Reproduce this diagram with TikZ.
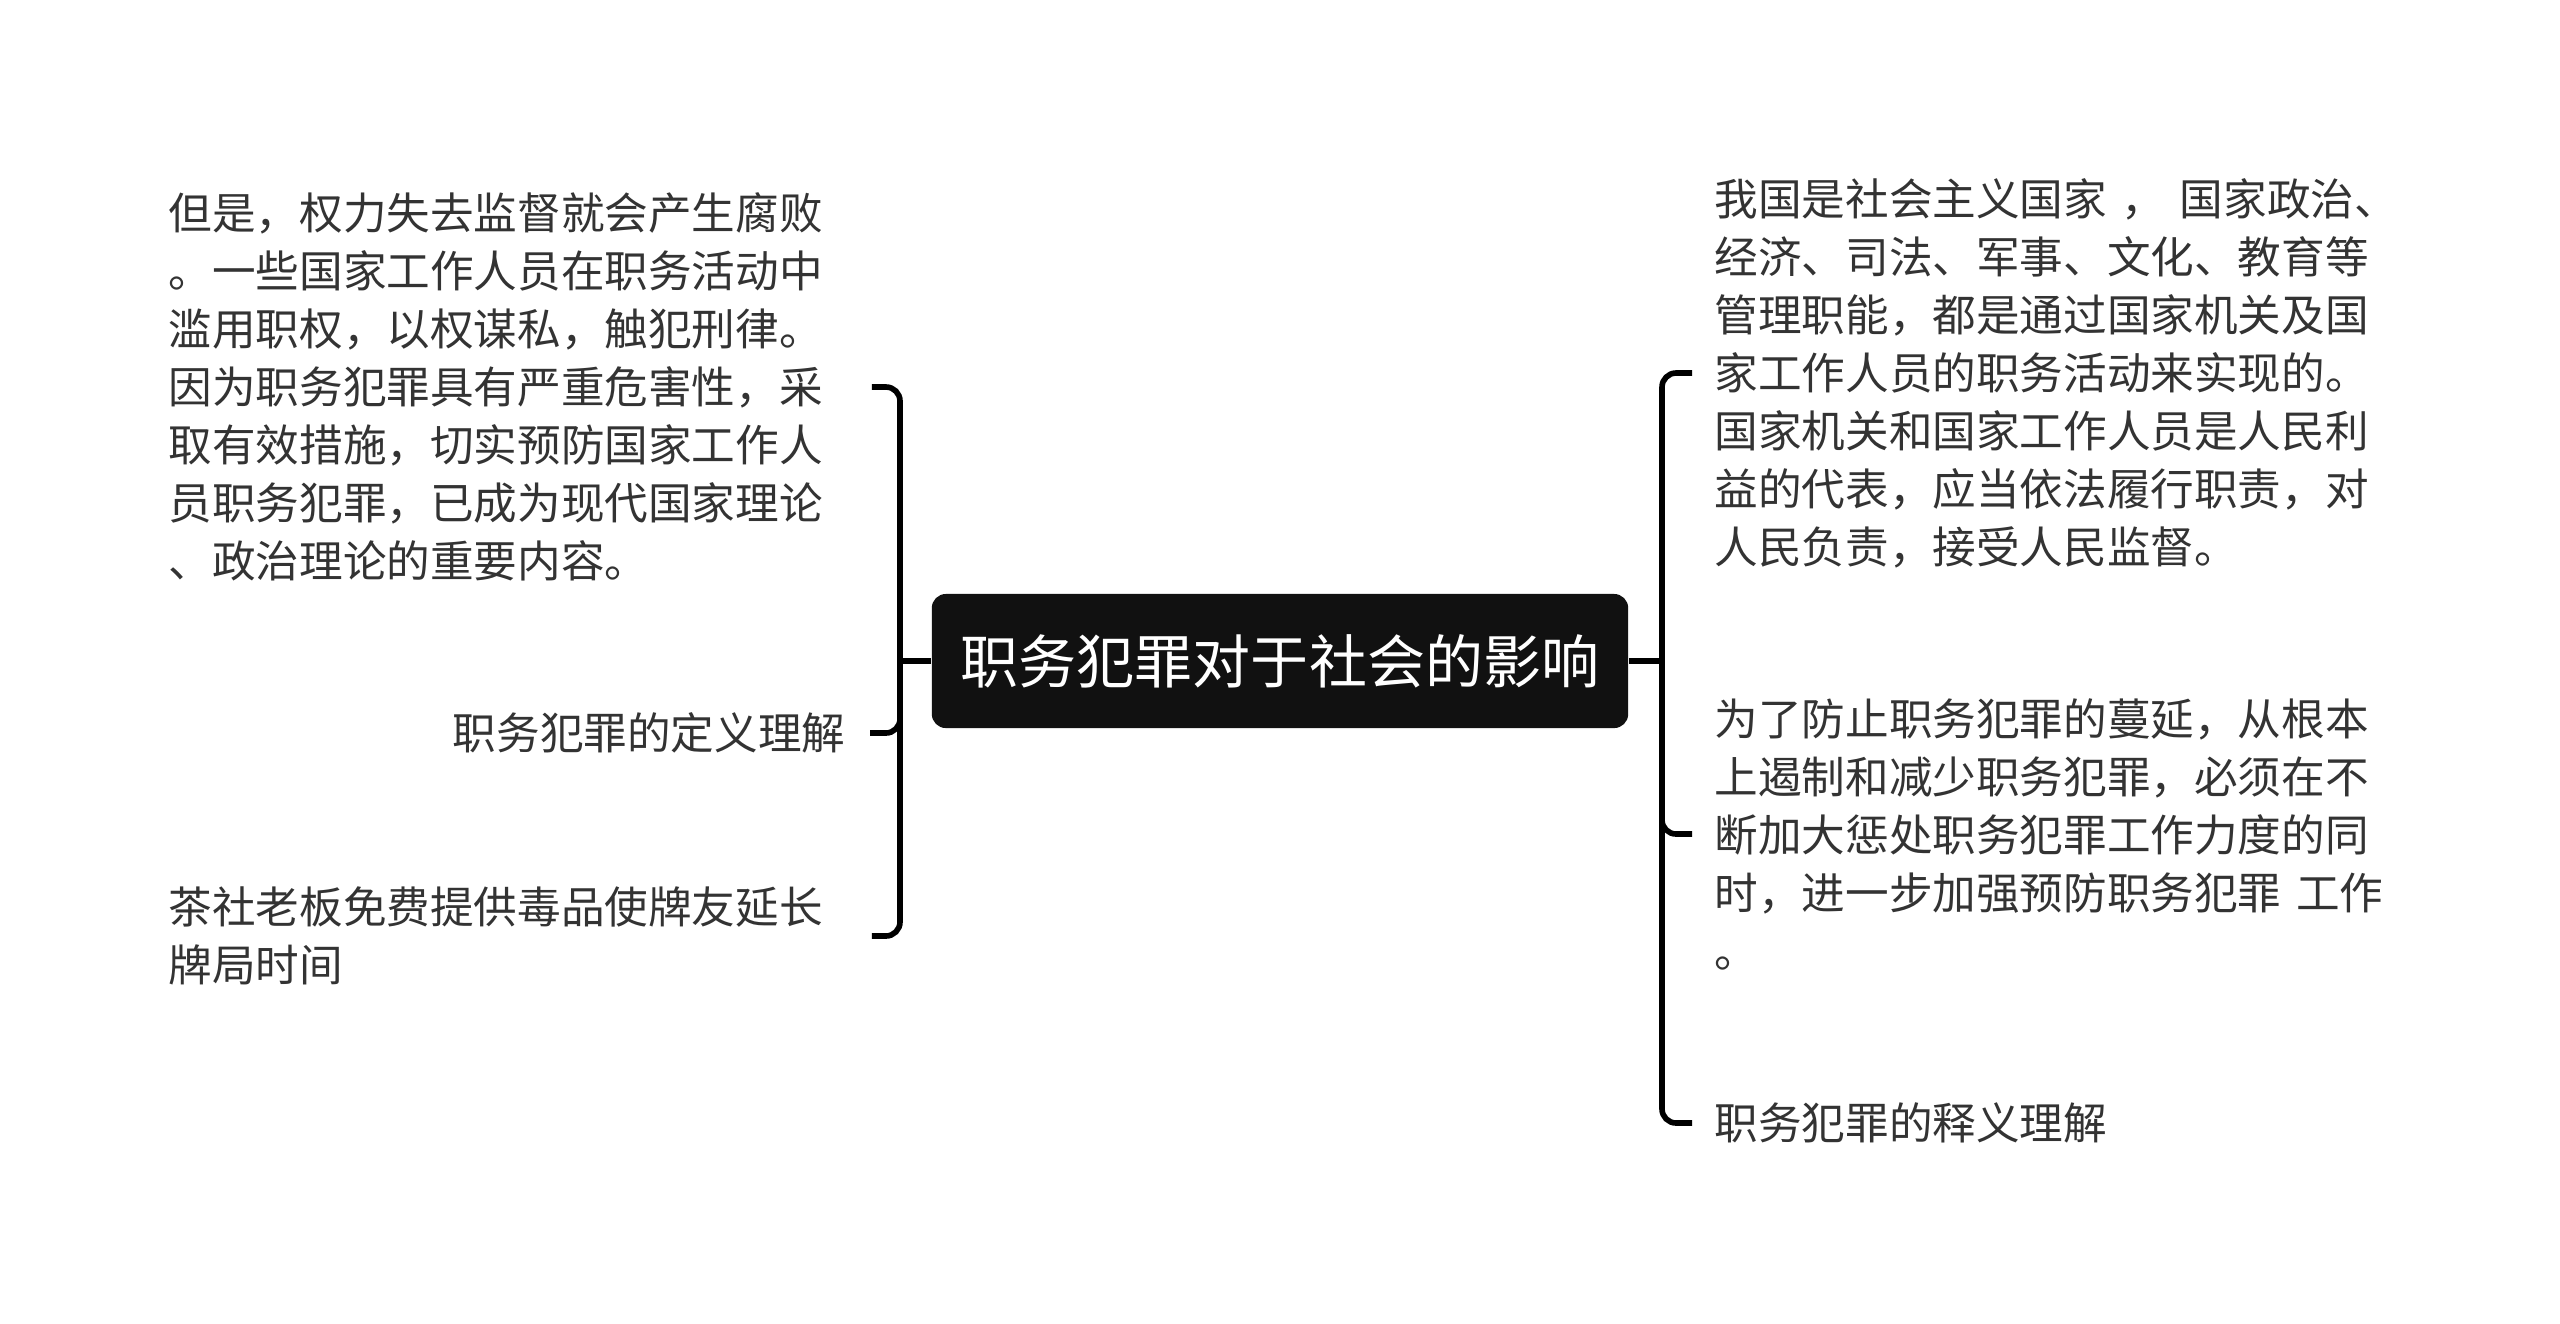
\documentclass[tikz,border=0pt]{standalone}
\usepackage{fontspec}
\setmainfont{Noto Sans CJK SC}
\usepackage{tikz}
\definecolor{ink}{HTML}{333333}
\definecolor{rootbg}{HTML}{111111}

\begin{document}
\begin{tikzpicture}[
    x=0.01cm, y=-0.01cm,
    font=\fontsize{12.4pt}{16.5pt}\selectfont,
    leaf/.style={text=ink, inner sep=0pt, align=left, text width=6.78cm},
    rleaf/.style={leaf, text width=7.8cm, anchor=west},
    root/.style={fill=rootbg, text=white, rounded corners=4pt, inner sep=0pt, minimum width=6.96cm, minimum height=1.34cm, font=\fontsize{16.5pt}{20pt}\selectfont},
    link/.style={black, line width=1.6pt, rounded corners=4pt}
  ]
    \useasboundingbox (0,0) rectangle (2560,1323);
    \node[root] (main) at (1280,661) {职务犯罪对于社会的影响};
    % left side
    \node[leaf, anchor=west] (l1) at (168,387) {但是，权力失去监督就会产生腐败\\。一些国家工作人员在职务活动中\\滥用职权，以权谋私，触犯刑律。\\因为职务犯罪具有严重危害性，采\\取有效措施，切实预防国家工作人\\员职务犯罪，已成为现代国家理论\\、政治理论的重要内容。};
    \node[leaf, anchor=east, align=right] (l2) at (846,733) {职务犯罪的定义理解};
    \node[leaf, anchor=west] (l3) at (168,936) {茶社老板免费提供毒品使牌友延长\\牌局时间};
    % right side
    \node[rleaf] (r1) at (1714,373) {我国是社会主义国家 ， 国家政治、\\经济、司法、军事、文化、教育等\\管理职能，都是通过国家机关及国\\家工作人员的职务活动来实现的。\\国家机关和国家工作人员是人民利\\益的代表，应当依法履行职责，对\\人民负责，接受人民监督。};
    \node[rleaf] (r2) at (1714,834) {为了防止职务犯罪的蔓延，从根本\\上遏制和减少职务犯罪，必须在不\\断加大惩处职务犯罪工作力度的同\\时，进一步加强预防职务犯罪 工作\\。};
    \node[rleaf] (r3) at (1714,1123) {职务犯罪的释义理解};
    \coordinate (lb) at (900,661);
    \coordinate (rb) at (1662,661);
    \draw[link] (main.west) -- (lb);
    \draw[link] (main.east) -- (rb);
    \draw[link] ([xshift=2.4mm]l1.east) -| (lb) |- ([xshift=2.4mm]l3.east);
    \draw[link] ([xshift=2.4mm]l2.east) -| ([yshift=4mm]lb |- l2.east);
    \draw[link] ([xshift=-2.2mm]r1.west) -| (rb) |- ([xshift=-2.2mm]r3.west);
    \draw[link] ([xshift=-2.2mm]r2.west) -| ([yshift=4mm]rb |- r2.west);
  \end{tikzpicture}
\end{document}
